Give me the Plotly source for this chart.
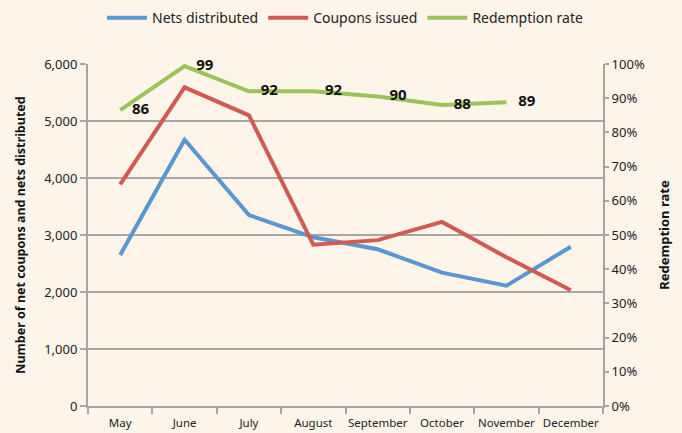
import plotly.graph_objects as go

months = ["May", "June", "July", "August", "September", "October", "November", "December"]
nets_distributed = [2650, 4670, 3350, 2960, 2750, 2340, 2110, 2795]
coupons_issued = [3890, 5590, 5100, 2830, 2910, 3230, 2610, 2030]
redemption_rate = [86.5, 99.4, 92, 92, 90.5, 88, 88.8, None]
redemption_labels = ["86", "99", "92", "92", "90", "88", "89", ""]

BG = "#FEF5EA"
FONT = "Noto Sans"
AX = "#A6A6A6"

fig = go.Figure()
fig.add_trace(go.Scatter(x=months, y=nets_distributed, name="Nets distributed",
                         mode="lines", line=dict(color="#5A96D2", width=4)))
fig.add_trace(go.Scatter(x=months, y=coupons_issued, name="Coupons issued",
                         mode="lines", line=dict(color="#D35A52", width=4)))
fig.add_trace(go.Scatter(x=months, y=[v / 100 if v is not None else None for v in redemption_rate],
                         name="Redemption rate", yaxis="y2",
                         mode="lines+text", text=["   " + t for t in redemption_labels],
                         textposition="middle right",
                         textfont=dict(family=FONT, size=15, color="#111111", weight="bold"),
                         line=dict(color="#9CC25A", width=4), cliponaxis=False))

fig.update_layout(
    width=682, height=433,
    paper_bgcolor=BG, plot_bgcolor=BG,
    margin=dict(l=88, r=79, t=64, b=27, autoexpand=False),
    font=dict(family=FONT, size=12, color="#222222"),
    legend=dict(orientation="h", x=0.5, xanchor="center", y=0.995, yanchor="top",
                yref="container", font=dict(size=14, family=FONT), bgcolor="rgba(0,0,0,0)",
                itemwidth=40),
    xaxis=dict(type="category", range=[-0.5, 7.5], tickson="boundaries",
               ticks="outside", ticklen=6, tickcolor=AX, tickwidth=1.5, tickangle=0,
               showline=True, linecolor=AX, linewidth=2, showgrid=False,
               ticklabelstandoff=5,
               tickfont=dict(size=11.5), zeroline=False, automargin=False),
    yaxis=dict(range=[0, 6000], dtick=1000, tickformat=",", ticks="outside", ticklen=6,
               tickcolor=AX, tickwidth=1.5, showline=True, linecolor=AX, linewidth=2,
               gridcolor=AX, gridwidth=1.5, zeroline=False, automargin=False,
               tickfont=dict(size=13),
               title=dict(text="Number of net coupons and nets distributed",
                          font=dict(size=12.5, weight="bold", color="#111111"), standoff=16)),
    yaxis2=dict(range=[0, 1], dtick=0.1, tickformat=".0%", overlaying="y", side="right",
                ticks="outside", ticklen=4, tickcolor=AX, tickwidth=1.5, showline=True,
                linecolor=AX, linewidth=2, showgrid=False, zeroline=False,
                tickfont=dict(size=13), automargin=False,
                title=dict(text="Redemption rate",
                           font=dict(size=13, weight="bold", color="#111111"), standoff=16)),
)

fig.write_html("out.html", config={"displayModeBar": False},
               post_script="document.body.style.margin='0';document.body.style.background='#FEF5EA';")
